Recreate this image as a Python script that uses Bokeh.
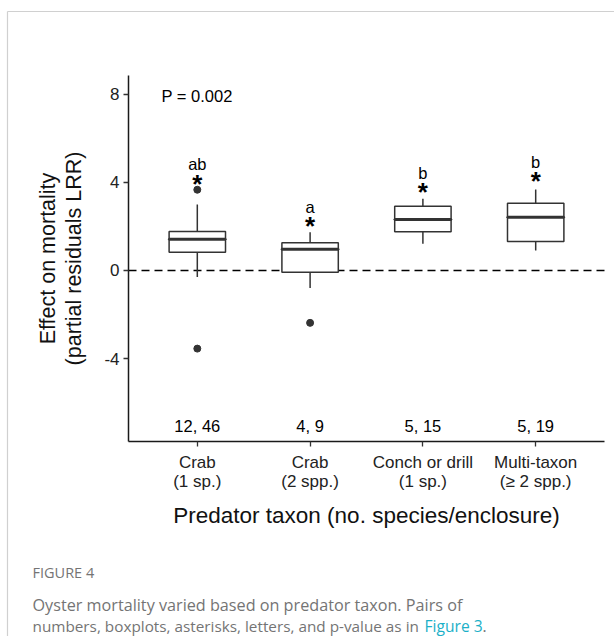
from bokeh.plotting import figure
from bokeh.models import Range1d, FixedTicker, Label, ColumnDataSource
from bokeh.core.properties import value
from bokeh.embed import file_html
from bokeh.resources import INLINE
import math

# ---------------- data ----------------
categories = ["Crab\n(1 sp.)", "Crab\n(2 spp.)", "Conch or drill\n(1 sp.)", "Multi-taxon\n(\u2265 2 spp.)"]
positions = [1, 2, 3, 4]
q1 = [0.83, -0.08, 1.76, 1.32]
median = [1.42, 0.97, 2.32, 2.42]
q3 = [1.77, 1.26, 2.92, 3.06]
whisker_low = [-0.30, -0.79, 1.21, 0.91]
whisker_high = [3.00, 1.74, 3.26, 3.68]
outlier_group = [1, 1, 2]
outlier_value = [3.67, -3.55, -2.38]
star_y = [4.20, 2.30, 3.82, 4.32]
letters = ["ab", "a", "b", "b"]
letter_y = [4.85, 2.88, 4.42, 4.92]
counts = ["12, 46", "4, 9", "5, 15", "5, 19"]
count_y = [-7.05, -7.05, -7.05, -7.05]
p_text = "P = 0.002"
y_ticks = [-4, 0, 4, 8]
ref_line = 0
y_title = ["Effect on mortality", "(partial residuals LRR)"]
x_title = "Predator taxon (no. species/enclosure)"
caption_head = "FIGURE 4"
caption_1 = "Oyster mortality varied based on predator taxon. Pairs of"
caption_2 = "numbers, boxplots, asterisks, letters, and p-value as in"
caption_link = "Figure 3"

# ---------------- layout helpers (pixel positions -> data) ----------------
W, H = 614, 636
FL, FR, FT, FB = 128, 604, 75, 441
X0, X1 = 0.39, 4.61
Y0, Y1 = -7.77, 8.86


def xd(px):
    return X0 + (px - FL) / (FR - FL) * (X1 - X0)


def yd(py):
    return Y1 - (py - FT) / (FB - FT) * (Y1 - Y0)


FONT = "Liberation Sans"
CAP_FONT = "Open Sans"

p = figure(width=W, height=H, x_range=Range1d(xd(0), xd(W)), y_range=Range1d(yd(H), yd(0)),
           output_backend="svg", toolbar_location=None,
           min_border_left=0, min_border_right=0, min_border_top=0, min_border_bottom=0)
p.grid.visible = False
p.outline_line_color = None
p.background_fill_color = "white"
p.border_fill_color = "white"

# axes drawn at the plot panel's edges
for ax in (p.xaxis[0], p.yaxis[0]):
    ax.axis_line_color = "#1a1a1a"
    ax.axis_line_width = 1.5
    ax.major_tick_line_color = "#333333"
    ax.major_tick_line_width = 1.3
    ax.major_tick_out = 5
    ax.major_tick_in = 0
    ax.minor_tick_line_color = None
    ax.major_label_text_font = FONT
    ax.major_label_text_font_size = "17px"
    ax.major_label_text_color = "#222222"

p.yaxis.fixed_location = X0
p.yaxis.bounds = (Y0, Y1)
p.yaxis.ticker = FixedTicker(ticks=y_ticks)
p.yaxis.major_label_overrides = {t: str(t) for t in y_ticks}
p.yaxis.major_label_standoff = 4

p.xaxis.fixed_location = Y0
p.xaxis.bounds = (X0, X1)
p.xaxis.ticker = FixedTicker(ticks=positions)
p.xaxis.major_label_overrides = {pos: c for pos, c in zip(positions, categories)}
p.xaxis.major_label_standoff = 6
p.xaxis.major_label_text_line_height = 1.05

# reference line at zero
p.segment(x0=X0, y0=ref_line, x1=X1, y1=ref_line, line_color="black", line_width=1.5, line_dash="8 5")

src = ColumnDataSource(dict(x=positions, q1=q1, med=median, q3=q3, lo=whisker_low, hi=whisker_high,
                            sy=star_y, ly=letter_y, let=letters, cnt=counts, cy=count_y))

# whiskers
p.segment(x0="x", y0="q3", x1="x", y1="hi", source=src, line_color="#333333", line_width=1.5)
p.segment(x0="x", y0="lo", x1="x", y1="q1", source=src, line_color="#333333", line_width=1.5)
# boxes
p.vbar(x="x", bottom="q1", top="q3", width=0.5, source=src, fill_color="white",
       line_color="#333333", line_width=1.5)
# medians
p.rect(x="x", y="med", width=0.5, height=0.001, source=src, fill_alpha=0,
       line_color="#333333", line_width=3)
# outliers
p.scatter(x=outlier_group, y=outlier_value, size=7, color="#333333")

# stars, letters, counts
p.text(x="x", y="sy", text=value("*"), source=src, text_font=value(FONT), text_font_style="bold",
       text_font_size="26px", text_align="center", text_baseline="middle", text_color="black",
       y_offset=6)
p.text(x="x", y="ly", text="let", source=src, text_font=value(FONT), text_font_size="16.5px",
       text_align="center", text_baseline="middle", text_color="black")
p.text(x="x", y="cy", text="cnt", source=src, text_font=value(FONT), text_font_size="16.5px",
       text_align="center", text_baseline="middle", text_color="black")

p.add_layout(Label(x=xd(161), y=yd(95), text=p_text, text_font=FONT, text_font_size="16.5px",
                   text_baseline="middle", text_align="left", text_color="black"))

# axis titles
p.add_layout(Label(x=xd(366), y=yd(515), text=x_title, text_font=FONT, text_font_size="22.5px",
                   text_baseline="middle", text_align="center", text_color="#111111"))
p.add_layout(Label(x=xd(47), y=yd(258), text=y_title[0], text_font=FONT, text_font_size="21.5px",
                   text_baseline="middle", text_align="center", text_color="#111111", angle=math.pi / 2))
p.add_layout(Label(x=xd(73), y=yd(258), text=y_title[1], text_font=FONT, text_font_size="21.5px",
                   text_baseline="middle", text_align="center", text_color="#111111", angle=math.pi / 2))

# caption
cap_gray = "#747474"
p.add_layout(Label(x=xd(32), y=yd(572), text=caption_head, text_font=CAP_FONT, text_font_size="14.5px",
                   text_baseline="middle", text_color=cap_gray))
p.add_layout(Label(x=xd(32), y=yd(604), text=caption_1,
                   text_font=CAP_FONT, text_font_size="16.2px", text_baseline="middle", text_color=cap_gray))
p.add_layout(Label(x=xd(32), y=yd(625), text=caption_2,
                   text_font=CAP_FONT, text_font_size="15.3px", text_baseline="middle", text_color=cap_gray))
p.add_layout(Label(x=xd(424), y=yd(625), text=caption_link, text_font=CAP_FONT, text_font_size="15.6px",
                   text_baseline="middle", text_color="#1bb0c8"))
p.add_layout(Label(x=xd(482), y=yd(625), text=".", text_font=CAP_FONT, text_font_size="15.6px",
                   text_baseline="middle", text_color=cap_gray))

# card border lines
p.segment(x0=[xd(7), xd(7)], y0=[yd(11), yd(11)], x1=[xd(614), xd(7)], y1=[yd(11), yd(636)],
          line_color="#d0d0d0", line_width=1.2)

open("out.html", "w").write(file_html(p, INLINE))
